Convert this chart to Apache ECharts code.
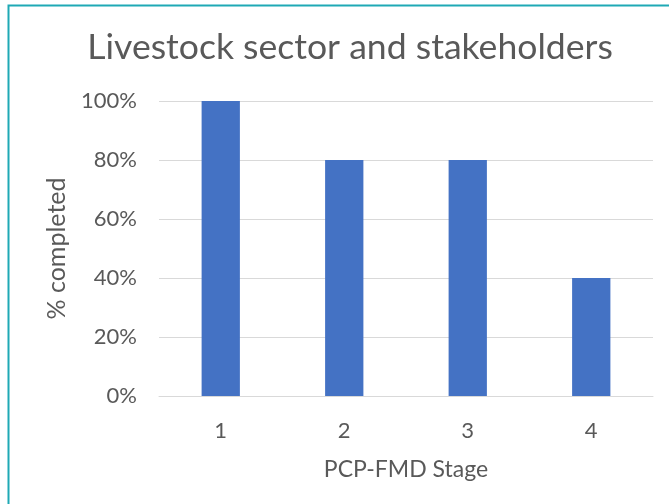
<!DOCTYPE html>
<html>
<head>
<meta charset="utf-8">
<script src="https://cdn.jsdelivr.net/npm/echarts@6/dist/echarts.min.js"></script>
<style>
  html, body { margin: 0; padding: 0; background: #fff; }
  #chart { width: 669px; height: 504px; }
</style>
</head>
<body>
<div id="chart"></div>
<script>
// data
const stages = ['1', '2', '3', '4'];
const completed = [100, 80, 80, 40];
const yTicks = [0, 20, 40, 60, 80, 100];

const chart = echarts.init(document.getElementById('chart'));

const option = {
  animation: false,
  textStyle: { fontFamily: 'Lato, "Open Sans", sans-serif' },
  graphic: [{
    type: 'rect',
    shape: { x: 8.5, y: 5.5, width: 700, height: 600 },
    style: { fill: 'none', stroke: '#1fa9b5', lineWidth: 2 }
  }],
  title: {
    text: 'Livestock sector and stakeholders',
    left: 345,
    top: 25,
    textAlign: 'center',
    textStyle: { fontSize: 35.6, fontWeight: 'normal', color: '#595959' }
  },
  grid: { left: 159, right: 16, top: 101, bottom: 108 },
  xAxis: {
    type: 'category',
    data: stages,
    name: 'PCP-FMD Stage',
    nameLocation: 'middle',
    nameGap: 62,
    nameTextStyle: { fontSize: 23, color: '#595959' },
    axisLine: { lineStyle: { color: '#d9d9d9' } },
    axisTick: { show: false },
    axisLabel: { fontSize: 22, color: '#595959', margin: 24 }
  },
  yAxis: {
    type: 'value',
    min: 0,
    max: 100,
    interval: 20,
    name: '% completed',
    nameLocation: 'middle',
    nameGap: 90,
    nameTextStyle: { fontSize: 25, color: '#595959' },
    axisLine: { show: false },
    axisTick: { show: false },
    splitLine: { lineStyle: { color: '#d9d9d9' } },
    axisLabel: {
      fontSize: 22,
      color: '#595959',
      margin: 22,
      formatter: v => yTicks.includes(v) ? v + '%' : ''
    }
  },
  series: [{
    type: 'bar',
    data: completed,
    barWidth: '31%',
    itemStyle: { color: '#4472c4' }
  }]
};

chart.setOption(option);
</script>
</body>
</html>
